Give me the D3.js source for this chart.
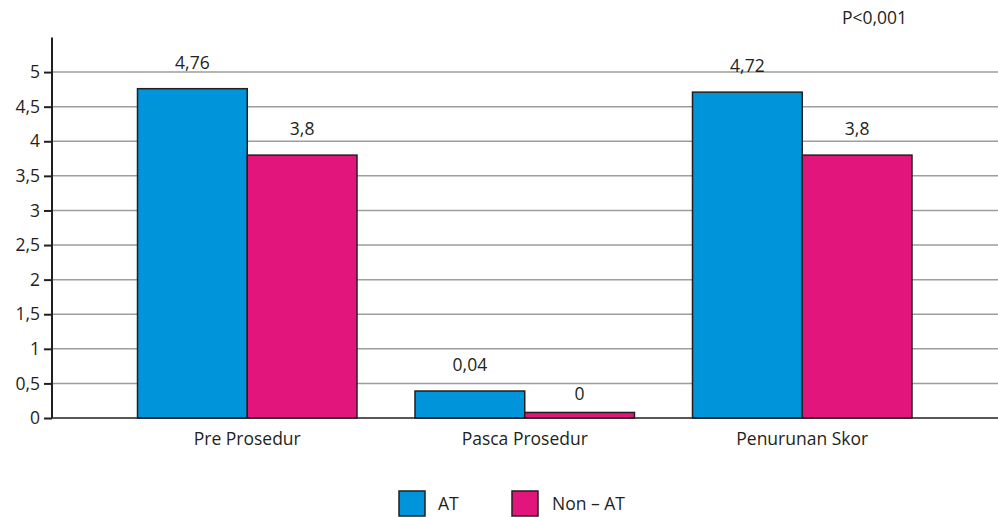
<!DOCTYPE html>
<html>
<head>
<meta charset="utf-8">
<script src="https://cdn.jsdelivr.net/npm/d3@7"></script>
<style>
  body { margin: 0; background: #fff; }
  svg text { font-family: "Open Sans", "Noto Sans", sans-serif; fill: #231f20; }
</style>
</head>
<body>
<svg id="chart" width="998" height="517"></svg>
<script>
let categories = ["Pre Prosedur", "Pasca Prosedur", "Penurunan Skor"]
let seriesNames = ["AT", "Non \u2013 AT"]
// bar heights as drawn in the picture
let atValues = [4.76, 0.39, 4.71]
let nonAtValues = [3.8, 0.08, 3.8]
// value labels as printed
let atLabels = ["4,76", "0,04", "4,72"]
let nonAtLabels = ["3,8", "0", "3,8"]
let yTicks = [0, 0.5, 1, 1.5, 2, 2.5, 3, 3.5, 4, 4.5, 5]
let colors = ["#0095da", "#e1157c"]

let chart = d3.select("#chart")
let fontSize = "17.5px"

let left = 52
let xscale = d3.scaleBand()
    .domain(categories)
    .range([108.5, 941])

let inner = d3.scaleBand()
    .domain(seriesNames)
    .range([29, 248.5])

let yscale = d3.scaleLinear()
    .domain([0, 5.5])
    .range([418, 37.5])

// gridlines
chart.append("g")
    .selectAll("line")
    .data(yTicks.filter(d => d > 0))
    .enter().append("line")
    .attr("x1", left)
    .attr("x2", 998)
    .attr("y1", d => yscale(d))
    .attr("y2", d => yscale(d))
    .attr("stroke", "#9d9d9d")
    .attr("stroke-width", 1.5)

let rows = categories.map((c, i) => [
    {cat: c, s: seriesNames[0], v: atValues[i], label: atLabels[i], color: colors[0]},
    {cat: c, s: seriesNames[1], v: nonAtValues[i], label: nonAtLabels[i], color: colors[1]}
]).flat()

chart.append("g")
    .selectAll("rect")
    .data(rows)
    .enter().append("rect")
    .attr("x", d => xscale(d.cat) + inner(d.s))
    .attr("y", d => yscale(d.v))
    .attr("width", inner.bandwidth())
    .attr("height", d => yscale(0) - yscale(d.v))
    .attr("fill", d => d.color)
    .attr("stroke", "#231f20")
    .attr("stroke-width", 1.5)

chart.append("g")
    .selectAll("text")
    .data(rows)
    .enter().append("text")
    .attr("x", d => xscale(d.cat) + inner(d.s) + inner.bandwidth() / 2)
    .attr("y", d => yscale(d.v) - (d.v < 0.2 ? 12 : 20))
    .attr("text-anchor", "middle")
    .style("font-size", fontSize)
    .text(d => d.label)

// y axis
let yaxis = chart.append("g")
    .attr("transform", "translate(" + left + ",0)")
    .call(d3.axisLeft(yscale).tickValues(yTicks).tickSize(8).tickPadding(4)
        .tickFormat(d => String(d).replace(".", ",")))
yaxis.select(".domain").remove()
yaxis.selectAll("line").attr("stroke", "#231f20").attr("stroke-width", 2)
yaxis.selectAll("text").style("font-size", fontSize).style("font-family", "'Open Sans', 'Noto Sans', sans-serif").attr("fill", "#231f20")

chart.append("line")
    .attr("x1", left).attr("x2", left)
    .attr("y1", yscale(5.5)).attr("y2", yscale(0))
    .attr("stroke", "#231f20").attr("stroke-width", 2)

// x baseline and labels
chart.append("line")
    .attr("x1", left).attr("x2", 998)
    .attr("y1", yscale(0)).attr("y2", yscale(0))
    .attr("stroke", "#231f20").attr("stroke-width", 1.5)

chart.append("g")
    .selectAll("text")
    .data(categories)
    .enter().append("text")
    .attr("x", d => xscale(d) + inner(seriesNames[1]))
    .attr("y", 445)
    .attr("text-anchor", "middle")
    .style("font-size", fontSize)
    .text(d => d)

chart.append("text")
    .attr("x", 842)
    .attr("y", 24)
    .style("font-size", fontSize)
    .text("P<0,001")

// legend
let legendX = [399, 512]
let legend = chart.append("g")
    .selectAll("g")
    .data(seriesNames)
    .enter().append("g")
    .attr("transform", (d, i) => "translate(" + legendX[i] + ",491)")
legend.append("rect")
    .attr("width", 26).attr("height", 25)
    .attr("fill", (d, i) => colors[i])
    .attr("stroke", "#231f20").attr("stroke-width", 1.5)
legend.append("text")
    .attr("x", (d, i) => i == 0 ? 39 : 40)
    .attr("y", 19)
    .style("font-size", fontSize)
    .text(d => d)
</script>
</body>
</html>
